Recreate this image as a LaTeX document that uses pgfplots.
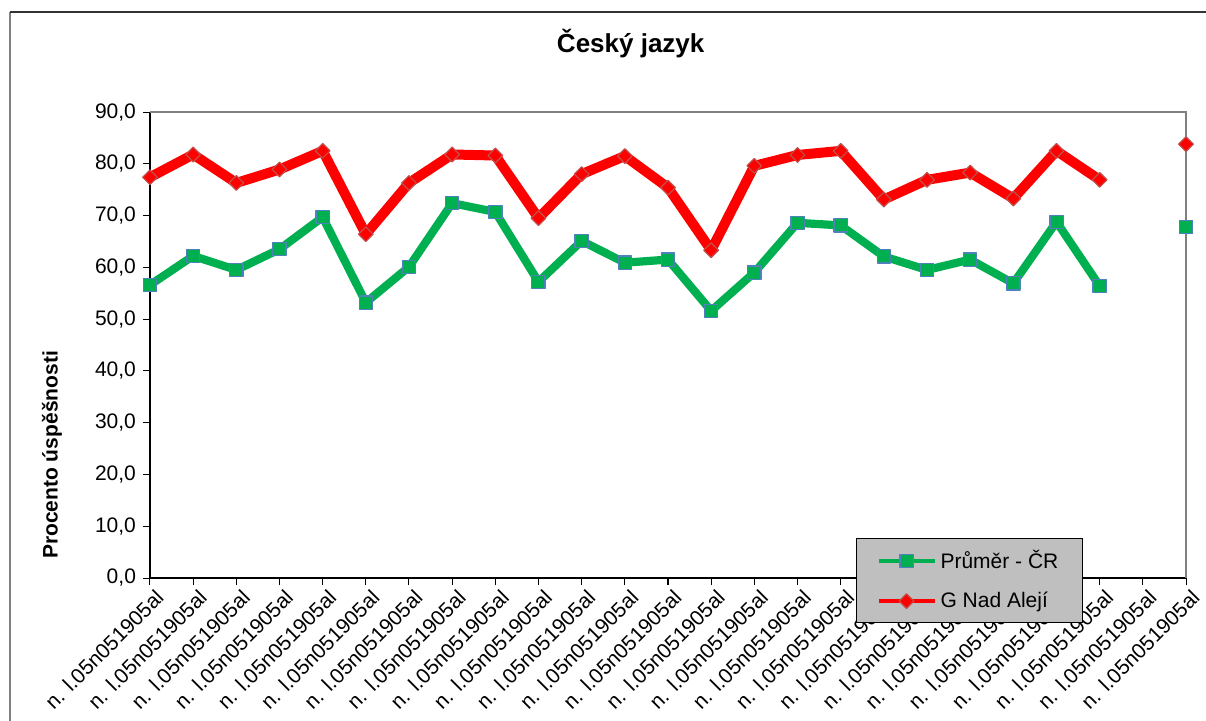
\documentclass[border=0pt]{standalone}
\usepackage{fontspec}
\setmainfont{Liberation Sans}
\usepackage{pgfplots}
\pgfplotsset{compat=1.18}

\definecolor{cgreen}{HTML}{00B050}
\definecolor{cblue}{HTML}{4F81BD}
\definecolor{cred}{HTML}{FF0000}
\definecolor{credb}{HTML}{C0504D}

\begin{document}
\begin{tikzpicture}[x=1pt,y=1pt]
\begin{axis}[
  at={(0,0)}, anchor=south west,
  scale only axis, width=518pt, height=233pt,
  xmin=0, xmax=24, ymin=0, ymax=90,
  axis x line*=bottom, axis y line*=left,
  axis line style={black, line width=0.8pt, -},
  xtick={0,...,24}, xticklabel={n. l.05n051905al},
  xticklabel style={rotate=45, anchor=north east, inner sep=1pt, xshift=1.5pt, yshift=-1.5pt},
  ytick={0,10,...,90},
  yticklabel style={/pgf/number format/.cd, fixed, fixed zerofill, precision=1, use comma, assume math mode=true},
  tick align=outside, major tick length=3.5pt,
  tick style={black, line width=0.5pt},
  font=\fontsize{10.5}{12}\selectfont,
  clip=false, unbounded coords=jump,
  title={Český jazyk},
  title style={at={(axis description cs:0.464,1.122)}, anchor=center, font=\fontsize{13}{15}\selectfont\bfseries},
  ylabel={Procento úspěšnosti},
  ylabel style={at={(axis description cs:-0.0946,0.264)}, anchor=center, font=\fontsize{10.5}{12}\selectfont\bfseries},
  legend style={at={(axis description cs:0.6815,0.0858)}, anchor=north west,
    fill=gray!50, draw=black, line width=0.5pt,
    inner xsep=10pt, inner ysep=4pt, row sep=6pt,
    font=\fontsize{10.5}{12}\selectfont},
  legend cell align=left,
  legend image code/.code={\draw[#1, line width=2pt, mark repeat=2, mark phase=2] plot coordinates {(0pt,0pt) (14pt,0pt) (28pt,0pt)};},
]
\addplot[cgreen, line width=4.1pt, line join=round,
  mark=square*, mark size=3.3pt,
  mark options={fill=cgreen, draw=cblue, line width=0.6pt}]
  coordinates {
  (0,56.6) (1,62.2) (2,59.5) (3,63.5) (4,69.7) (5,53.2) (6,60.1) (7,72.4)
  (8,70.7) (9,57.2) (10,65.1) (11,60.9) (12,61.5) (13,51.6) (14,59.0)
  (15,68.6) (16,68.1) (17,62.1) (18,59.5) (19,61.5) (20,56.9) (21,68.8)
  (22,56.4) (23,nan) (24,67.8)};
\addlegendentry{Průměr - ČR}
\addplot[cred, line width=5pt, line join=round,
  mark=square*, mark size=2.6pt,
  mark options={rotate=45, fill=cred, draw=credb, line width=0.6pt}]
  coordinates {
  (0,77.4) (1,81.8) (2,76.3) (3,78.9) (4,82.5) (5,66.4) (6,76.3) (7,81.8)
  (8,81.6) (9,69.5) (10,78.0) (11,81.5) (12,75.4) (13,63.3) (14,79.6)
  (15,81.7) (16,82.5) (17,73.1) (18,76.9) (19,78.3) (20,73.3) (21,82.5)
  (22,76.9) (23,nan) (24,83.8)};
\addlegendentry{G Nad Alejí}
\draw[gray, line width=1pt] (rel axis cs:0,1) -- (rel axis cs:1,1) -- (rel axis cs:1,0);
\end{axis}
\draw[gray, line width=0.7pt] (-70,-100) -- (-70,283);
\draw[black!80, line width=0.7pt] (-70,283) -- (540,283);
\pgfresetboundingbox
\path (-75,289) rectangle (528,-71);
\end{tikzpicture}
\end{document}
